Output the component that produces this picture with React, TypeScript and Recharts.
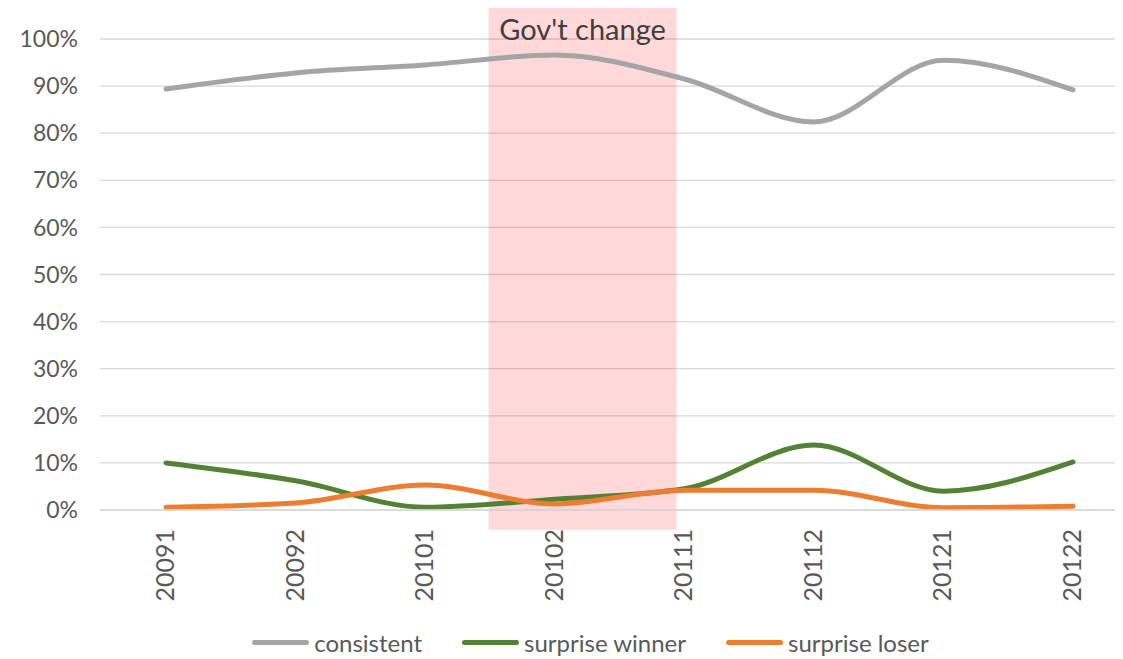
import * as React from "react"
import {
  LineChart,
  Line,
  XAxis,
  YAxis,
  CartesianGrid,
  ReferenceArea,
  Legend,
} from "recharts"

const periods = ["20091", "20092", "20101", "20102", "20111", "20112", "20121", "20122"]
const consistent = [0.894, 0.928, 0.945, 0.966, 0.915, 0.824, 0.955, 0.892]
const surpriseWinner = [0.1, 0.062, 0.006, 0.023, 0.045, 0.138, 0.04, 0.102]
const surpriseLoser = [0.006, 0.015, 0.053, 0.013, 0.042, 0.042, 0.005, 0.008]
const yTicks = [0, 0.1, 0.2, 0.3, 0.4, 0.5, 0.6, 0.7, 0.8, 0.9, 1]

// shaded period, in category index units
const govChangeFrom = 2.49
const govChangeTo = 3.94

const series = [
  { key: "consistent", name: "consistent", color: "#a5a5a5" },
  { key: "winner", name: "surprise winner", color: "#548235" },
  { key: "loser", name: "surprise loser", color: "#ed7d31" },
]

const data = periods.map((p, i) => ({
  period: p,
  idx: i,
  consistent: consistent[i],
  winner: surpriseWinner[i],
  loser: surpriseLoser[i],
}))

const FONT = "Lato, 'Open Sans', sans-serif"

const XTick = (props: any) => {
  const { x, y, payload } = props
  return (
    <text
      x={0}
      y={0}
      transform={`translate(${x + 8},${y + 11}) rotate(-90)`}
      textAnchor="end"
      fill="#595959"
      fontSize={25}
      fontFamily={FONT}
    >
      {payload.value}
    </text>
  )
}

const LegendContent = () => (
  <div
    style={{
      display: "flex",
      justifyContent: "center",
      alignItems: "center",
      fontFamily: FONT,
      fontSize: 24,
      color: "#595959",
      gap: 40,
      paddingLeft: 50,
      marginTop: -3,
    }}
  >
    {series.map((s) => (
      <div key={s.key} style={{ display: "flex", alignItems: "center" }}>
        <span
          style={{
            display: "inline-block",
            width: 57,
            height: 5,
            borderRadius: 3,
            background: s.color,
            marginRight: 5,
          }}
        />
        <span>{s.name}</span>
      </div>
    ))}
  </div>
)

export default function App() {
  return (
    <div style={{ width: 1115, height: 651, overflow: "hidden" }}>
      <LineChart
        width={1115}
        height={651}
        data={data}
        margin={{ top: 31, right: 0, left: 0, bottom: 0 }}
      >
        <CartesianGrid stroke="#d9d9d9" strokeWidth={1.3} vertical={false} />
        <XAxis
          dataKey="period"
          padding={{ left: 66, right: 50 }}
          height={121}
          tick={<XTick />}
          tickLine={false}
          axisLine={{ stroke: "#d9d9d9", strokeWidth: 1.3 }}
          interval={0}
        />
        <XAxis
          xAxisId="num"
          dataKey="idx"
          type="number"
          domain={[0, periods.length - 1]}
          padding={{ left: 66, right: 50 }}
          hide
        />
        <YAxis
          domain={[0, 1]}
          ticks={yTicks}
          width={92}
          tickFormatter={(v: number) => `${Math.round(v * 100)}%`}
          tick={{ fill: "#595959", fontSize: 23, fontFamily: FONT }}
          tickLine={false}
          axisLine={false}
          tickMargin={16}
        />
        <Legend
          verticalAlign="bottom"
          height={28}
          content={<LegendContent />}
        />
        {series.map((s) => (
          <Line
            key={s.key}
            dataKey={s.key}
            name={s.name}
            type="monotone"
            stroke={s.color}
            strokeWidth={5}
            strokeLinecap="round"
            dot={false}
            activeDot={false}
            isAnimationActive={false}
          />
        ))}
        <ReferenceArea
          xAxisId="num"
          x1={govChangeFrom}
          x2={govChangeTo}
          y1={-0.042}
          y2={1.068}
          ifOverflow="visible"
          fill="#ff0000"
          fillOpacity={0.15}
          stroke="none"
          label={{
            value: "Gov't change",
            position: "insideTop",
            offset: 12,
            fill: "#404040",
            fontSize: 29,
            fontFamily: FONT,
          }}
        />
      </LineChart>
    </div>
  )
}
